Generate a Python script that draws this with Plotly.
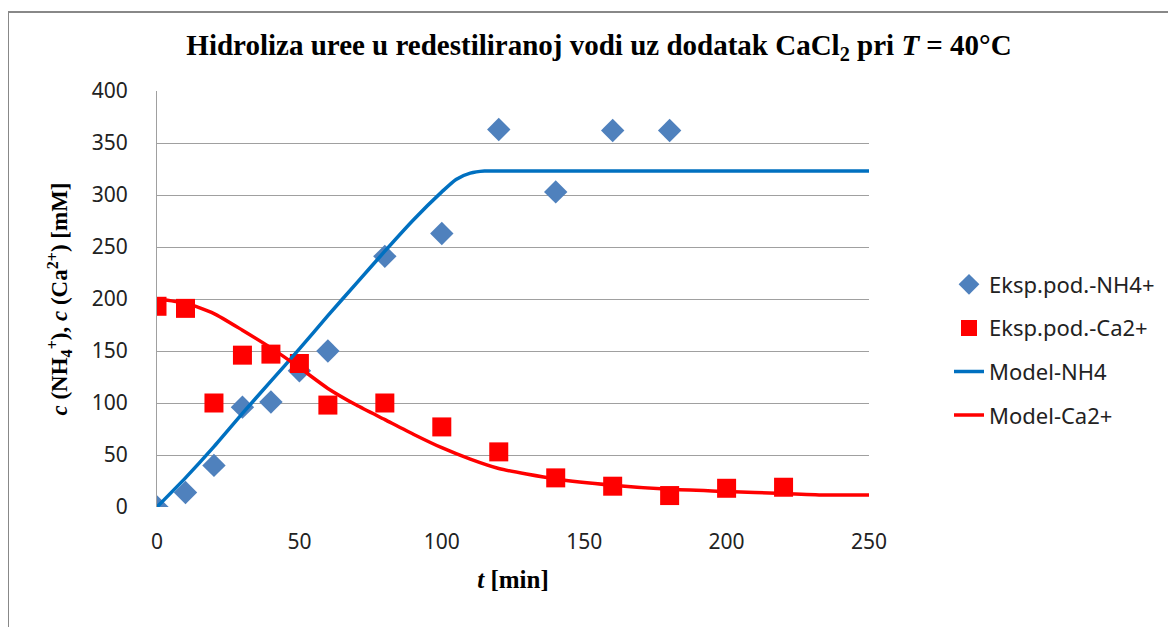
import plotly.graph_objects as go

# Experimental data
t_exp_nh4 = [0, 10, 20, 30, 40, 50, 60, 80, 100, 120, 140, 160, 180]
nh4_exp = [0, 14, 40, 96, 101, 131, 150, 241, 263, 363, 303, 362, 362]

t_exp_ca = [0, 10, 20, 30, 40, 50, 60, 80, 100, 120, 140, 160, 180, 200, 220]
ca_exp = [193, 191, 100, 146, 147, 138, 98, 100, 77, 53, 28, 20, 11, 18, 19]

# Model curves
t_mod_nh4 = [0, 10, 20, 30, 40, 50, 60, 70, 80, 90, 100, 105, 110, 115, 130, 160, 200, 250]
nh4_mod = [0, 28, 58, 90, 121, 152, 184, 215, 246, 276, 303, 315, 321, 323, 323, 323, 323, 323]

t_mod_ca = [0, 10, 20, 30, 40, 50, 60, 70, 80, 90, 100, 110, 120, 140, 160, 180, 200, 220, 235, 250]
ca_mod = [200, 196, 186, 170, 153, 134, 114, 98, 84, 70, 57, 46, 37, 27, 21, 17, 15, 13, 11.5, 11.5]

x_ticks = [0, 50, 100, 150, 200, 250]
y_ticks = [0, 50, 100, 150, 200, 250, 300, 350, 400]

fig = go.Figure()
fig.add_trace(go.Scatter(x=t_exp_nh4, y=nh4_exp, mode="markers", name="Eksp.pod.-NH4+",
                         legendgroup="a",
                         marker=dict(symbol="diamond", size=18, color="#4F81BD")))
fig.add_trace(go.Scatter(x=t_exp_ca, y=ca_exp, mode="markers", name="Eksp.pod.-Ca2+",
                         legendgroup="b",
                         marker=dict(symbol="square", size=19, color="#FF0000")))
fig.add_trace(go.Scatter(x=t_mod_nh4, y=nh4_mod, mode="lines", name="Model-NH4",
                         legendgroup="c",
                         line=dict(color="#0070C0", width=3.5, shape="spline", smoothing=0.6)))
fig.add_trace(go.Scatter(x=t_mod_ca, y=ca_mod, mode="lines", name="Model-Ca2+",
                         legendgroup="d",
                         line=dict(color="#FF0000", width=3.5, shape="spline", smoothing=0.6)))

OFF = 8  # page offset of the figure
W, H = 1176, 627
L, R, T, B = 157 - OFF, 869 - OFF, 91 - OFF, 507 - OFF
pw, ph = R - L, B - T

def px(x):
    return (x - OFF - L) / pw

def py(y):
    return (B - (y - OFF)) / ph

fig.update_layout(
    width=W, height=H,
    margin=dict(l=L, r=W - R, t=T, b=H - B, autoexpand=False),
    paper_bgcolor="white", plot_bgcolor="white",
    title=dict(
        text="Hidroliza uree u redestiliranoj vodi uz dodatak CaCl<sub>2</sub> pri <i>T</i> = 40°C",
        xref="container", x=(599 - OFF) / W, xanchor="center",
        yref="container", y=1 - (45 - OFF) / H, yanchor="middle",
        font=dict(family="Liberation Serif", size=29, color="black", weight="bold"),
    ),
    showlegend=True,
    legend=dict(x=px(949), xanchor="left", y=py(350), yanchor="middle",
                font=dict(family="Noto Sans", size=22, color="#222"),
                tracegroupgap=12, bgcolor="rgba(0,0,0,0)"),
    shapes=[
        dict(type="line", xref="paper", yref="paper", x0=px(7), x1=px(1200), y0=py(12), y1=py(12),
             line=dict(color="#888", width=2)),
        dict(type="line", xref="paper", yref="paper", x0=px(8), x1=px(8), y0=py(11), y1=py(660),
             line=dict(color="#888", width=2)),
    ],
)

fig.update_xaxes(range=[0, 250], tickvals=x_ticks, showgrid=False, zeroline=False,
                 showline=False, ticks="", ticklabelstandoff=20,
                 tickfont=dict(family="Noto Sans", size=21, color="#222"),
                 title=dict(text="<i>t</i> [min]", standoff=16,
                            font=dict(family="Liberation Serif", size=25, color="black", weight="bold")))
fig.update_yaxes(range=[0, 400], tickvals=y_ticks, showgrid=True, gridcolor="#A0A0A0", gridwidth=1,
                 zeroline=False, showline=True, linecolor="#A0A0A0", linewidth=1, ticks="",
                 ticklabelstandoff=24,
                 tickfont=dict(family="Noto Sans", size=21, color="#222"),
                 title=dict(text="<i>c</i> (NH<sub>4</sub><sup>+</sup>), <i>c</i> (Ca<sup>2+</sup>) [mM]",
                            standoff=17,
                            font=dict(family="Liberation Serif", size=23, color="black", weight="bold")))

fig.write_html("out.html")
